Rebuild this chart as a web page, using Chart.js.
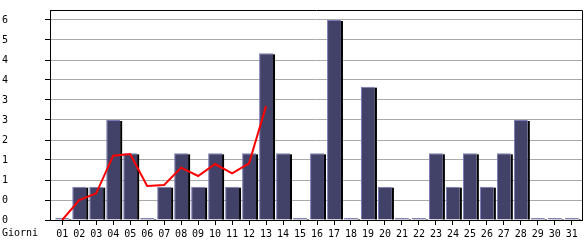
<!DOCTYPE html>
<html>
<head>
<meta charset="utf-8">
<script src="https://cdn.jsdelivr.net/npm/chart.js@4/dist/chart.umd.min.js"></script>
<style>
    html, body { margin: 0; padding: 0; background: #fff; }
</style>
</head>
<body>
<canvas id="chart" width="585" height="240"></canvas>
<script>
// Dati del grafico
const days = ['01', '02', '03', '04', '05', '06', '07', '08', '09', '10', '11', '12', '13', '14', '15', '16',
    '17', '18', '19', '20', '21', '22', '23', '24', '25', '26', '27', '28', '29', '30', '31'];
const visits = [0, 1, 1, 3, 2, 0, 1, 2, 1, 2, 1, 2, 5, 2, 0, 2, 6, 0, 4, 1, 0, 0, 2, 1, 2, 1, 2, 3, 0, 0, 0];
const trend = [0, 0.6, 0.8, 1.93, 1.98, 1.02, 1.05, 1.57, 1.32, 1.68, 1.4, 1.7, 3.42];
const yTickValues = [0, 0.6, 1.2, 1.8, 2.4, 3, 3.6, 4.2, 4.8, 5.4, 6];
const yTickLabels = ['0', '0', '1', '1', '2', '3', '3', '4', '4', '5', '6'];
const xTitle = 'Giorni';

Chart.defaults.font.family = 'DejaVu Sans Mono';
Chart.defaults.font.size = 10;
Chart.defaults.color = '#000';

// Ombra nera a destra delle barre
const barShadow = {
    id: 'barShadow',
    beforeDatasetDraw(chart, args) {
        if (args.meta.type !== 'bar') return;
        const ctx = chart.ctx;
        ctx.save();
        ctx.fillStyle = '#000';
        args.meta.data.forEach(bar => {
            const p = bar.getProps(['x', 'y', 'base', 'width'], true);
            ctx.fillRect(p.x + p.width / 2, p.y + 1, 2, p.base - p.y - 1);
        });
        ctx.restore();
    }
};

// Cornice e titolo asse x
const frame = {
    id: 'frame',
    afterDraw(chart) {
        const ctx = chart.ctx;
        const a = chart.chartArea;
        ctx.save();
        ctx.strokeStyle = '#000';
        ctx.lineWidth = 1;
        ctx.beginPath();
        ctx.moveTo(Math.round(a.left) + 0.5, Math.round(a.top) + 0.5);
        ctx.lineTo(Math.round(a.right) + 0.5, Math.round(a.top) + 0.5);
        ctx.lineTo(Math.round(a.right) + 0.5, Math.round(a.bottom) + 0.5);
        ctx.stroke();
        ctx.fillStyle = '#000';
        ctx.font = '10px "DejaVu Sans Mono"';
        ctx.textBaseline = 'top';
        ctx.fillText(xTitle, 2, chart.scales.x.top + 8);
        ctx.restore();
    }
};

new Chart(document.getElementById('chart'), {
    data: {
        datasets: [
            {
                type: 'line',
                data: trend.map((v, i) => ({ x: i + 1, y: v })),
                borderColor: '#ff0000',
                borderWidth: 2,
                pointRadius: 0,
                tension: 0,
                order: 0
            },
            {
                type: 'bar',
                data: visits.map((v, i) => ({ x: i + 1, y: v })),
                backgroundColor: '#424268',
                borderColor: '#7a7ab8',
                borderWidth: { top: 1, left: 1, right: 0, bottom: 0 },
                borderSkipped: false,
                minBarLength: 2,
                categoryPercentage: 1,
                barPercentage: 0.82,
                order: 1
            }
        ]
    },
    options: {
        responsive: false,
        animation: false,
        layout: { padding: { top: 10, right: 3, left: 2, bottom: 0 } },
        plugins: {
            legend: { display: false },
            tooltip: { enabled: false }
        },
        scales: {
            x: {
                type: 'linear',
                min: 0.28,
                max: 31.6,
                offset: false,
                afterBuildTicks(scale) {
                    scale.ticks = days.map((d, i) => ({ value: i + 1 }));
                },
                grid: {
                    offset: false,
                    drawOnChartArea: false,
                    tickLength: 5,
                    tickColor: '#000'
                },
                border: { color: '#000' },
                ticks: {
                    padding: 3,
                    maxRotation: 0,
                    autoSkip: false,
                    callback: (value, index) => days[index]
                },
                afterFit(scale) { scale.height = 20; }
            },
            y: {
                min: 0,
                max: 6.3,
                afterBuildTicks(scale) {
                    scale.ticks = yTickValues.map(v => ({ value: v }));
                },
                grid: {
                    color: '#aaaaaa',
                    tickColor: '#000',
                    tickLength: 5
                },
                border: { color: '#000' },
                ticks: {
                    crossAlign: 'far',
                    callback: (value, index) => yTickLabels[index]
                },
                afterFit(scale) { scale.width = 48; }
            }
        }
    },
    plugins: [barShadow, frame]
});
</script>
</body>
</html>
